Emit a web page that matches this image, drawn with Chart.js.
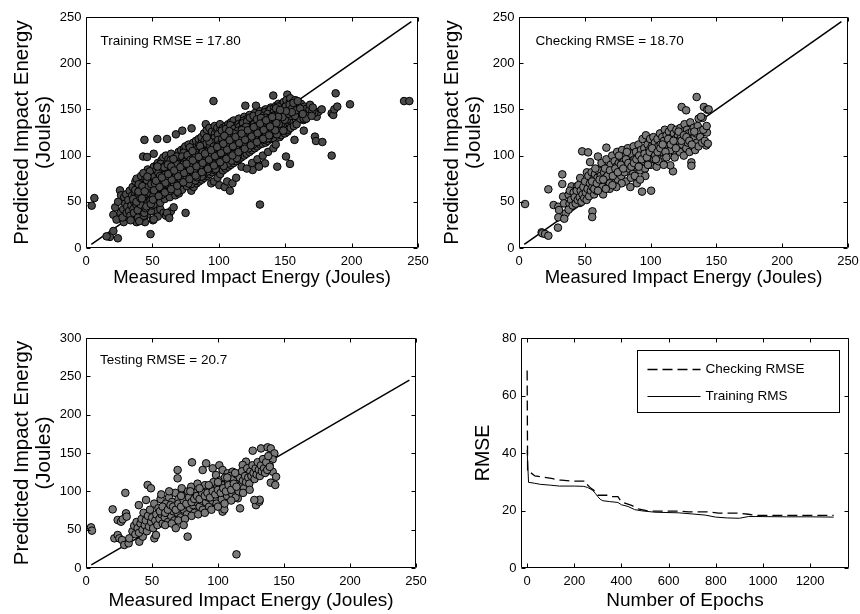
<!DOCTYPE html>
<html>
<head>
<meta charset="utf-8">
<title>Impact energy model - ANFIS results</title>
<script src="https://cdn.jsdelivr.net/npm/chart.js@4.4.0/dist/chart.umd.min.js"></script>
<style>
  html, body { margin: 0; padding: 0; background: #fff; }
  #wrap { position: relative; width: 860px; height: 614px; }
  #wrap canvas { position: absolute; }
</style>
</head>
<body>
<div id="wrap">
  <canvas id="trainChart" width="430" height="300" style="left:0;top:0"></canvas>
  <canvas id="checkChart" width="430" height="300" style="left:430px;top:0"></canvas>
  <canvas id="testChart" width="430" height="314" style="left:0;top:300px"></canvas>
  <canvas id="epochChart" width="430" height="314" style="left:430px;top:300px"></canvas>
</div>
<script>
// Measured vs predicted impact energy (Joules), [measured, predicted]
const trainingPoints = [
  [4.3,45.8],[6.3,54],[48.6,15],[18,12],[15.5,12.6],[20.6,18.4],[24,10.5],[20.6,36],[23,30.7],[25.6,62.4],
  [75,38],[131,47],[96,159],[44,117],[43,99],[46,98.5],[51,102],[53.7,118],[61,118],[67.7,123],[72.5,127],[79.5,129.5],
  [120,154],[128,154],[141,165],[151.6,166],[144,88],[153.6,91],[150.6,99],[172.4,120.5],[173.2,115.8],[178,114.7],
  [185,100],[185,145.8],[186.2,144],[187,150],[188,167.4],[189.2,153],[198.8,155.5],[239.5,159],[243.5,159],
  [166.7,150],[162,152.6],[157,117],[164,127],[125.5,84.4],[130.5,90],[134.8,91.6],[163.6,138.5],[165,139.3],
  [173.7,142],[175,147.5],[177.5,150],[169.4,150.4],[172,146.4],[158.6,153.7],
  [36,32],[42,30],[46,36],[50.4,30],[52,40],[56,42],[58.4,38],[60.2,35],[62.5,36],[54,34],[64,40],[66,44],[44.4,28],
  [22,44],[26,38],[28.4,28],[30,34],[24.2,50],[26.4,57],[30.8,46],[38,28],[40,36],[34,41],[43,34],[51,31],[61,38],[62.7,32.5],
  [28,42],[28.8,55],[27.5,33],[29.5,48],[30.6,38],[30.2,58],[31,45],[32.4,40],[31.8,52],[32.9,62],[33.4,35],[34.2,46],[34.8,57],[33.6,30],[35.1,66],
  [36.3,50],[35.7,42],[36.8,60],[37.2,72],[36.1,38],[38.4,55],[37.9,47],[38.8,65],[39.2,33],[38.1,75],
  [40.3,44],[39.6,58],[40.8,68],[41.2,52],[40.1,29],[41.5,78],[42.4,60],[42.9,50],[41.7,70],[43.3,40],[42.2,64],[43.6,35],
  [44.5,55],[44.1,66],[45.2,48],[44.8,75],[45.6,62],[43.9,38],[46.3,58],[46.8,70],[45.7,52],[47.1,80],[46.1,64],[47.4,44],[46.5,85],
  [48.2,62],[48.7,72],[47.8,55],[49.1,50],[48.5,78],[49.4,66],[48.9,40],
  [50.3,60],[50.7,68],[49.8,75],[51.2,56],[50.5,82],[51.5,64],[49.6,46],[51.1,88],
  [52.4,65],[52.8,70],[51.9,58],[53.2,80],[52.6,62],[53.5,90],[52.2,50],[53.9,74],
  [54.3,68],[54.8,62],[53.7,76],[55.1,84],[54.5,58],[55.4,72],[54.1,92],[55.7,52],
  [56.2,66],[56.7,72],[55.9,80],[57.1,60],[56.5,88],[57.4,70],[56.9,95],[57.7,55],[56.3,76],
  [58.4,70],[58.8,64],[57.8,78],[59.2,84],[58.6,74],[59.5,58],[58.2,98],[59.8,68],
  [60.3,72],[60.8,66],[59.7,80],[61.2,88],[60.6,62],[61.5,76],[60.1,100],[61.8,56],[60.9,92],
  [62.4,74],[62.8,68],[61.7,82],[63.2,90],[62.6,78],[63.5,64],[62.1,96],[63.8,58],[62.9,86],
  [64.3,76],[64.7,70],[63.9,84],[65.1,92],[64.5,66],[65.4,80],[64.1,102],[65.7,62],[64.9,88],
  [66.2,78],[66.8,72],[65.8,86],[67.2,94],[66.6,68],[67.5,82],[66.1,74],[67.8,98],[66.4,60],
  [68.3,80],[68.7,74],[67.9,88],[69.2,96],[68.5,70],[69.5,84],[68.1,64],[69.8,104],[68.9,76],
  [70.2,82],[70.8,76],[69.7,90],[71.1,98],[70.5,72],[71.4,86],[70.1,66],[71.7,106],[70.9,80],[71.3,94],
  [72.4,84],[72.8,78],[71.9,92],[73.2,100],[72.6,74],[73.5,88],[72.1,68],[73.8,108],[72.9,96],
  [74.3,86],[74.7,80],[73.9,94],[75.2,102],[74.5,76],[75.5,90],[74.1,70],[75.8,82],[74.9,110],
  [76.3,88],[76.8,82],[75.7,96],[77.1,104],[76.5,78],[77.4,92],[76.1,72],[77.7,98],[76.9,86],[77.3,112],
  [78.4,90],[78.8,84],[77.9,98],[79.2,106],[78.6,80],[79.5,94],[78.1,74],[79.8,86],[78.9,102],[79.3,62],
  [80.3,92],[80.7,86],[79.7,100],[81.2,108],[80.5,82],[81.5,96],[80.1,76],[81.8,88],[80.9,114],[81.1,66],
  [82.4,94],[82.8,88],[81.9,102],[83.2,110],[82.6,84],[83.5,98],[82.1,78],[83.8,90],[82.9,116],[83.3,70],
  [84.3,95],[84.7,90],[83.9,104],[85.2,112],[84.5,86],[85.5,100],[84.1,80],[85.8,92],[84.9,118],[85.1,72],
  [86.4,97],[86.8,92],[85.9,106],[87.2,114],[86.6,88],[87.5,102],[86.1,82],[87.8,94],[86.9,120],[87.3,74],
  [88.3,99],[88.7,94],[87.9,108],[89.2,116],[88.5,90],[89.5,104],[88.1,84],[89.8,96],[88.9,124],[89.1,76],
  [90.4,100],[90.8,95],[89.9,110],[91.2,118],[90.6,92],[91.5,106],[90.1,86],[91.8,98],[90.9,128],[91.3,78],[90.2,134],
  [92.3,102],[92.7,97],[91.9,112],[93.2,120],[92.5,94],[93.5,108],[92.1,88],[93.8,100],[92.9,130],[93.1,80],
  [94.4,104],[94.8,99],[93.9,114],[95.2,122],[94.6,96],[95.5,110],[94.1,90],[95.8,102],[94.9,126],[95.1,82],[94.3,70],
  [96.3,106],[96.7,100],[95.9,116],[97.2,124],[96.5,98],[97.5,112],[96.1,92],[97.8,104],[96.9,132],[97.1,84],[96.4,72],
  [98.4,107],[98.8,102],[97.9,118],[99.2,126],[98.6,100],[99.5,114],[98.1,94],[99.8,88],[98.9,130],[99.1,76],
  [100.3,108],[100.7,104],[99.7,120],[101.2,128],[100.5,102],[101.5,116],[100.1,96],[101.8,90],[100.9,134],[101.1,80],[100.4,68],
  [102.4,110],[102.8,105],[101.9,121],[103.2,130],[102.6,103],[103.5,117],[102.1,98],[103.8,92],[102.9,124],[103.1,84],
  [104.3,112],[104.7,107],[103.9,122],[105.2,132],[104.5,105],[105.5,118],[104.1,100],[105.8,94],[104.9,126],[105.1,86],[104.4,66],
  [106.4,113],[106.8,108],[105.9,123],[107.2,134],[106.6,106],[107.5,119],[106.1,102],[107.8,96],[106.9,128],[107.1,88],[106.3,72],
  [108.3,114],[108.7,110],[107.9,124],[109.2,136],[108.5,108],[109.5,120],[108.1,104],[109.8,98],[108.9,130],[109.1,90],[108.4,62],
  [110.4,116],[110.8,111],[109.9,126],[111.2,138],[110.6,109],[111.5,121],[110.1,105],[111.8,100],[110.9,132],[111.1,92],[110.3,70],
  [112.3,117],[112.7,112],[111.9,127],[113.2,110],[112.5,122],[113.5,106],[112.1,101],[113.8,133],[112.9,94],[113.1,76],
  [114.4,118],[114.8,114],[113.9,128],[115.2,140],[114.6,112],[115.5,124],[114.1,108],[115.8,102],[114.9,134],[115.1,96],
  [116.3,120],[116.7,115],[115.9,130],[117.2,113],[116.5,125],[117.5,109],[116.1,104],[117.8,136],[116.9,98],[117.1,88],
  [118.4,121],[118.8,116],[117.9,131],[119.2,142],[118.6,114],[119.5,126],[118.1,110],[119.8,105],[118.9,138],[119.1,100],
  [120.3,122],[120.7,118],[119.7,132],[121.2,115],[120.5,127],[121.5,112],[120.1,106],[121.8,140],[120.9,102],[121.1,86],
  [122.4,124],[122.8,119],[121.9,133],[123.2,144],[122.6,116],[123.5,128],[122.1,113],[123.8,108],[122.9,136],[123.1,104],
  [124.3,125],[124.7,120],[123.9,134],[125.2,117],[124.5,129],[125.5,114],[124.1,110],[125.8,138],[124.9,106],[125.1,92],
  [126.4,126],[126.8,122],[125.9,136],[127.2,146],[126.6,118],[127.5,130],[126.1,115],[127.8,112],[126.9,140],[127.1,108],
  [128.3,127],[128.7,123],[127.9,137],[129.2,120],[128.5,131],[129.5,116],[128.1,114],[129.8,142],[128.9,110],[129.1,96],
  [130.4,128],[130.8,124],[129.9,138],[131.2,148],[130.6,121],[131.5,132],[130.1,118],[131.8,115],[130.9,144],[131.1,112],[130.3,88],
  [132.3,130],[132.7,126],[131.9,140],[133.2,122],[132.5,134],[133.5,119],[132.1,116],[133.8,146],[132.9,113],[133.1,100],
  [134.4,131],[134.8,127],[133.9,141],[135.2,150],[134.6,124],[135.5,135],[134.1,120],[135.8,118],[134.9,147],[135.1,114],
  [136.3,132],[136.7,128],[135.9,142],[137.2,125],[136.5,136],[137.5,122],[136.1,119],[137.8,148],[136.9,116],[137.1,104],
  [138.4,133],[138.8,129],[137.9,143],[139.2,152],[138.6,126],[139.5,138],[138.1,123],[139.8,120],[138.9,150],[139.1,118],
  [140.3,134],[140.7,130],[139.7,144],[141.2,128],[140.5,139],[141.5,124],[140.1,122],[141.8,152],[140.9,119],[141.1,108],
  [142.4,136],[142.8,132],[141.9,145],[143.2,154],[142.6,129],[143.5,140],[142.1,126],[143.8,148],[142.9,112],
  [144.3,137],[144.7,133],[143.9,146],[145.2,130],[144.5,141],[145.5,127],[144.1,150],[145.8,120],[144.9,156],
  [146.4,138],[146.8,134],[145.9,147],[147.2,155],[146.6,131],[147.5,142],[146.1,128],[147.8,152],[146.9,122],
  [148.3,140],[148.7,135],[147.9,148],[149.2,132],[148.5,143],[149.5,130],[148.1,154],[149.8,124],[148.9,158],
  [150.4,141],[150.8,136],[149.9,150],[151.2,156],[150.6,134],[151.5,145],[150.1,131],[151.8,126],[150.9,160],
  [152.3,142],[152.7,138],[151.9,151],[153.2,135],[152.5,146],[153.5,158],[152.1,128],[153.8,162],
  [154.4,144],[154.8,140],[153.9,152],[155.2,136],[154.6,148],[155.5,157],[154.1,130],
  [156.3,145],[156.7,150],[155.9,138],[157.2,153],[156.5,132],[157.5,160],
  [158.4,146],[158.8,152],[157.9,140],[159.2,155],[158.6,134],
  [160.3,148],[160.7,154],[159.7,142],[161.2,140],[160.5,157],
  [162.4,150],[162.8,145],[161.9,156],[164.3,148],[164.7,153],[163.9,140],[166.4,151],[166.8,146],[165.9,140],
  [168.3,150],[168.7,155],[170.4,148],[170.8,152],[169.9,143],
  [35.5,53],[37.1,63],[38.9,41],[39.7,69],[41.1,47],[42.6,57],[43.2,81],[44.9,43],[45.3,71],[46.7,49],[47.3,61],[48.1,83],
  [49.7,57],[50.9,47],[51.3,73],[52.9,53],[53.1,85],[53.8,61],[55.3,67],[55.9,49],[56.1,91],[57.6,63],[58.1,81],[59.3,53],
  [59.9,89],[60.7,59],[61.1,69],[61.9,83],[62.3,71],[63.1,55],[63.7,95],[64.9,73],[65.2,63],[66.9,89],[67.3,57],[67.9,79],
  [68.4,99],[69.1,67],[69.9,59],[70.6,93],[71.8,71],[72.3,63],[73.1,81],[73.6,103],[74.8,73],[75.1,97],[75.9,67],[76.7,87],
  [77.6,77],[78.2,109],[79.1,69],[79.9,91],[80.6,79],[81.4,103],[82.3,73],[83.1,93],[83.7,81],[84.2,107],[85.3,77],[86.2,99],
  [86.7,85],[87.6,111],[88.4,79],[89.3,101],[89.7,89],[90.7,113],[91.6,83],[92.2,105],[93.1,91],[93.8,117],[94.2,87],[95.3,107],
  [95.7,93],[96.8,119],[97.3,89],[98.2,109],[98.7,97],[99.4,123],[100.6,93],[101.3,111],[101.7,99],[102.3,127],[103.6,95],
  [104.2,115],[104.8,103],[105.4,129],[106.2,97],[107.3,117],[107.6,105],[108.7,133],[109.4,101],[110.2,119],[110.7,107],
  [111.6,129],[112.2,103],[113.4,125],[113.7,113],[114.3,99],[115.3,131],[116.2,107],[116.8,123],[117.4,117],[118.2,135],
  [119.3,113],[119.6,129],[120.4,109],[121.3,137],[122.2,121],[122.7,111],[123.4,141],[124.2,123],[125.3,133],[125.6,119],
  [126.2,143],[127.3,127],[128.2,117],[128.6,135],[129.4,125],[130.2,145],[131.3,129],[132.2,137],[132.8,123],[133.6,143],
  [134.2,117],[135.3,139],[136.2,127],[136.7,145],[137.4,131],[138.3,121],[139.3,141],[140.2,137],[141.4,147],[142.2,133],
  [143.3,143],[143.7,123],[144.6,153],[145.4,139],[146.3,145],[147.2,135],[147.7,149],[148.6,127],[149.4,147],[150.3,153],
  [151.3,139],[152.4,149],[153.3,155],[154.2,143],[155.3,151],[156.2,157],[157.4,143],[158.2,149],[159.4,159],[161.3,151],[163.2,145],
  [38,50],[41,54],[44,58],[47,60],[50,63],[53,66],[56,69],[59,72],[62,73],[65,77],[68,79],[71,83],[74,85],[77,87],[80,89],
  [83,91],[86,95],[89,97],[92,99],[95,103],[98,105],[101,107],[104,109],[107,111],[110,113],[113,115],[116,117],[119,119],
  [122,121],[125,123],[128,125],[131,127],[134,129],[137,131],[140,135],[143,137],[146,140],[149,143],[152,145],[155,147],
  [39.5,61],[42.5,67],[45.5,45],[48.5,51],[51.5,77],[54.5,81],[57.5,87],[60.5,79],[63.5,87],[66.5,93],[69.5,91],[72.5,99],
  [75.5,95],[78.5,101],[81.5,99],[84.5,103],[87.5,106],[90.5,104],[93.5,111],[96.5,114],[99.5,117],[102.5,113],[105.5,121],
  [108.5,123],[111.5,117],[114.5,127],[117.5,129],[120.5,125],[123.5,131],[126.5,134],[129.5,132],[132.5,139],[135.5,141],
  [138.5,136],[141.5,141],[144.5,145],[147.5,144],[150.5,148],
  [47.3,66.8],[52.6,59.1],[58.9,87.4],[63.4,61.7],[69.8,71.2],[74.1,92.6],[79.6,83.3],[84.8,97.9],[88.1,81.5],[92.9,115.2],
  [97.6,85.4],[101.9,113.6],[106.7,91.3],[111.4,123.8],[115.9,104.7],[120.6,131.2],[125.8,111.9],[130.1,133.7],[135.7,122.6],
  [140.9,143.1],[145.3,134.2],[149.6,138.8],
  [45.8,73.4],[50.3,55.2],[55.7,77.9],[61.6,90.3],[66.3,69.4],[72.7,83.6],[77.2,69.8],[82.8,100.4],[87.1,77.3],[91.4,96.5],
  [96.2,109.8],[100.3,99.1],[105.1,112.7],[109.7,94.6],[114.2,118.3],[119.1,122.5],[124.3,115.9],[128.8,139.2],[133.9,131.4],
  [138.2,126.3],[143.1,151.2],[147.9,141.6],
  [49.2,69.1],[53.8,88.2],[57.3,61.4],[62.8,80.9],[67.6,91.2],[71.2,74.8],[76.4,100.6],[81.7,85.2],[85.9,110.3],[90.2,90.7],
  [94.9,101.4],[99.2,110.9],[103.7,88.7],[107.9,126.5],[112.8,108.2],[117.3,127.6],[122.4,107.9],[127.6,124.4],[131.8,140.8],
  [136.9,118.6],[141.3,132.7],[146.2,149.4],
  [44.2,61.3],[48.8,47.6],[54.9,65.3],[59.6,79.2],[64.2,88.1],[68.9,60.8],[73.4,90.4],[78.7,95.3],[83.4,76.6],[87.9,103.8],
  [92.4,87.2],[97.8,96.6],[102.6,118.4],[106.2,110.4],[110.9,101.7],[115.6,121.1],[120.9,116.3],[125.2,128.6],[129.7,121.8],
  [134.6,136.9],[139.8,129.4],[144.7,141.9],
  [42.1,53.7],[46.2,77.2],[51.9,69.6],[56.8,57.3],[60.9,75.7],[65.8,96.4],[70.3,81.1],[75.6,77.4],[80.2,104.9],[86.4,89.9],
  [90.9,119.6],[95.6,91.2],[99.9,101.3],[104.2,121.4],[108.8,116.1],[113.6,97.2],[118.4,112.4],[123.1,125.1],[127.9,131.4],
  [132.4,118.1],[137.7,139.7],[142.5,127.4],
  [51.2,62.4],[55.4,66.1],[59.8,70.7],[64.6,73.9],[69.3,77.6],[73.9,81.3],[78.4,84.6],[83.2,88.4],[87.8,92.1],[92.6,95.7],
  [97.1,99.4],[101.6,102.8],[106.3,106.4],[110.7,110.1],[115.4,113.6],[119.8,117.2],[124.7,120.7],[129.2,124.3],[133.8,127.8],
  [138.6,131.5],[143.4,135.2],
  [52.7,72.8],[57.1,76.3],[61.9,80.1],[66.4,83.9],[71.1,87.5],[75.7,91.2],[80.4,94.8],[84.9,98.6],[89.6,102.2],[94.3,105.9],
  [98.8,109.3],[103.4,112.9],[108.1,116.7],[112.6,120.2],[117.2,123.8],[121.9,127.4],[126.3,130.9],[131.1,134.6],[135.6,138.1],
  [140.2,141.8],
  [50.4,52.3],[54.8,56.2],[59.4,60.1],[64.1,63.7],[68.7,67.4],[73.3,71.1],[77.9,74.6],[82.6,78.4],[87.2,82.1],[91.8,85.7],
  [96.4,89.3],[101.1,92.9],[105.7,96.6],[110.3,100.2],[114.8,103.8],[119.5,107.4],[124.1,111.1],[128.7,114.7],[133.4,118.2],
  [137.9,121.9]
];

const checkingPoints = [
  [4.6,47.6],[17.2,17],[17.7,15.9],[19.8,15.2],[22.3,13.3],[22.3,63.5],[26.3,46.5],[29.9,44.7],[30.4,41.1],[29.9,33.2],[29.6,22],
  [32.9,79.7],[32.9,69.3],[33.5,55.6],[34.2,48.3],[35.5,37.5],[34.4,31.7],[37.7,57.7],[38.4,48],[37.7,41.5],[40,66.7],[44,66.7],
  [45.3,57.7],[46.3,48.7],[46.5,75.8],[48,104.6],[52.5,103.5],[51.6,81.9],[54,93],[55.6,79],[55.8,39.7],[55.6,33.5],[60,99],[64,88],
  [66.4,108.6],[93.5,61],[100.4,62],[123.6,152.6],[127,149],[135,163.4],[140.5,152.6],[143,149.7],[139.5,140.7],[136.5,140],
  [142.8,125],[142.3,111],[137,118],[130,120.9],[131,92.7],[131,89],[117,83],[115,89.5],[118,102.8],
  [38.6,62],[39.5,52],[40.8,46],[41.5,60],[42.3,55],[43.1,48],[43.8,62],[44.6,52],[45.2,68],[46.1,55],[46.9,62],[47.5,50],[48.3,58],
  [48.9,66],[49.6,54],[50.2,72],[50.8,60],[51.4,52],[52.1,64],[52.7,78],[53.3,56],[53.9,70],[54.6,62],[55.2,82],[55.8,66],[56.4,74],
  [57.1,58],[57.7,80],[58.3,68],[58.9,62],[59.6,76],[60.2,84],[60.8,70],[61.4,64],[62.1,78],[62.7,92],[63.3,72],[63.9,58],[64.6,82],
  [65.2,68],[65.8,76],[66.4,96],[67.1,86],[67.7,72],[68.3,80],[68.9,64],[69.6,90],[70.2,76],[70.8,100],[71.4,84],[72.1,70],[72.7,94],
  [73.3,80],[73.9,88],[74.6,104],[75.2,74],[75.8,92],[76.4,84],[77.1,98],[77.7,78],[78.3,106],[78.9,88],[79.6,94],[80.2,82],[80.8,100],
  [81.4,72],[82.1,90],[82.7,108],[83.3,86],[83.9,96],[84.6,66],[85.2,102],[85.8,92],[86.4,80],[87.1,110],[87.7,96],[88.3,88],[88.9,104],
  [89.6,70],[90.2,98],[90.8,112],[91.4,92],[92.1,84],[92.7,106],[93.3,100],[93.9,118],[94.6,94],[95.2,108],[95.8,86],[96.4,122],
  [97.1,102],[97.7,112],[98.3,96],[98.9,106],[99.6,118],[100.2,90],[100.8,110],[101.4,102],[102.1,120],[102.7,96],[103.3,114],
  [103.9,106],[104.6,88],[105.2,118],[105.8,110],[106.4,100],[107.1,124],[107.7,112],[108.3,104],[108.9,120],[109.6,96],[110.2,116],
  [110.8,128],[111.4,108],[112.1,122],[112.7,112],[113.3,100],[113.9,126],[114.6,116],[115.2,106],[115.8,130],[116.4,120],[117.1,112],
  [117.7,124],[118.3,98],[118.9,118],[119.6,128],[120.2,110],[120.8,122],[121.4,116],[122.1,104],[122.7,130],[123.3,120],[123.9,112],
  [124.6,126],[125.2,100],[125.8,134],[126.4,118],[127.1,108],[127.7,128],[128.3,114],[128.9,124],[129.6,104],[130.2,136],[130.8,118],
  [131.4,126],[132.1,110],[132.7,130],[133.3,120],[133.9,106],[134.6,124],[135.2,114],[135.8,132],[136.4,110],[137.1,126],[137.7,120],
  [138.3,142],[139.2,114],[140.1,128],[141.2,116],[142.6,132],[143.5,113],[144.1,150],
  [55.5,72],[57.2,64],[59.1,70],[61.2,74],[63.4,66],[65.4,86],[67.2,78],[69.1,84],[71.3,78],[73.2,86],[75.1,82],[77.4,90],[79.2,86],
  [81.3,96],[83.1,92],[85.4,88],[87.3,92],[89.2,96],[91.3,100],[93.2,96],[95.4,102],[97.2,98],[99.3,104],[101.2,108],[103.4,100],
  [105.3,104],[107.4,108],[109.2,112],[111.3,104],[113.4,118],[115.3,112],[117.4,116],[119.2,108],[121.3,126],[123.4,116],[125.3,122],
  [127.2,120],[129.4,116],[131.3,112],[133.2,126],[85,76],[88,78],[78,70],[74,66],[69,70],[96,78],[92,74],[106,94],[110,90],[64,74],
  [60,62],[76,100],[82,104],[91,88],[98,90],[104,96],[112,98],[58,86],[66,64],[71,68]
];

const testingPoints = [
  [3.8,53],[4.5,48.7],[20.2,76.5],[29.8,98],[21.5,38.7],[24,43],[25.3,38.7],[27.3,36.5],[24,62.6],[26.5,60.4],[27.8,63.5],
  [30.3,71.3],[30.8,67],[29,30],[32.3,32.2],[32.8,38.7],[40,82],[45.5,88.7],[46.7,108.3],[49.2,104],[40.4,34.3],[43,40.9],
  [51.8,38.7],[53,43],[69.4,127.8],[69.4,117],[80.3,137.8],[77,40.9],[88.4,127.8],[91,136.5],[96,130],[98.5,121.3],[101,134],
  [103.5,127.8],[103.5,73.5],[104.8,76.5],[116.7,77.8],[115,90.9],[114,17.8],[126.3,153],[132.6,156],[137.6,157.4],[140,156],
  [142.7,149.5],[141.4,141.7],[139,134.3],[138.4,128.7],[141.4,125.6],[144,119],[140,111.3],[143.4,108.3],[128.8,82],[131.3,86.5],
  [131.6,89],[127.5,88.7],[121.2,138.7],[118.7,134.3],[107.3,123.5],[111,125.6],
  [35.2,48],[36.5,55],[37.4,44],[38.3,60],[39.1,52],[40.2,46],[41.3,58],[42.1,64],[42.8,50],[43.6,72],[44.5,56],[45.3,62],[46.1,48],
  [46.9,68],[47.7,54],[48.5,76],[49.3,60],[50.1,66],[50.9,52],[51.7,84],[52.5,62],[53.3,70],[54.1,56],[54.9,78],[55.7,64],[56.5,90],
  [57.3,70],[58.1,58],[58.9,76],[59.7,66],[60.5,84],[61.3,72],[62.1,60],[62.9,92],[63.7,78],[64.5,68],[65.3,86],[66.1,74],[66.9,62],
  [67.7,98],[68.5,82],[69.3,72],[70.1,90],[70.9,78],[71.7,66],[72.5,104],[73.3,86],[74.1,76],[74.9,94],[75.7,82],[76.5,70],[77.3,100],
  [78.1,88],[78.9,78],[79.7,106],[80.5,92],[81.3,82],[82.1,72],[82.9,98],[83.7,86],[84.5,110],[85.3,94],[86.1,80],[86.9,102],[87.7,88],
  [88.5,76],[89.3,96],[90.1,108],[90.9,86],[91.7,100],[92.5,92],[93.3,80],[94.1,104],[94.9,96],[95.7,88],[96.5,112],[97.3,100],
  [98.1,92],[98.9,84],[99.7,106],[100.5,96],[101.3,114],[102.1,102],[102.9,90],[103.7,108],[104.5,98],[105.3,118],[106.1,104],
  [106.9,94],[107.7,112],[108.5,100],[109.3,120],[110.1,106],[110.9,96],[111.7,116],[112.5,104],[113.3,92],[114.1,122],[114.9,110],
  [115.7,100],[116.5,118],[117.3,108],[118.1,126],[118.9,114],[119.7,104],[120.5,120],[121.3,112],[122.1,130],[122.9,118],[123.7,110],
  [124.5,126],[125.3,120],[126.1,134],[126.9,124],[127.7,116],[128.5,130],[129.3,122],[130.1,138],[130.9,128],[131.7,120],[132.5,134],
  [133.3,126],[134.1,142],[134.9,130],[135.7,124],[136.5,138],[137.3,128],[138.1,146],[139.2,132],
  [56,74],[58,80],[60,72],[62,76],[64,82],[66,80],[68,76],[70,84],[72,80],[74,88],[76,84],[78,92],[80,86],[82,90],[84,94],[86,90],
  [88,98],[90,94],[92,98],[94,92],[96,100],[98,96],[100,102],[102,98],[104,104],[106,100],[108,108],[110,102],[112,110],[114,106],
  [60,56],[65,58],[70,62],[75,64],[80,68],[85,70],[90,72],[95,76],[100,80],[105,84],[110,88],[57,96],[63,100],[72,94],[79,100],
  [86,104],[93,108],[100,112],[107,118],[113,124],[119,98],[124,102],[68,52],[74,56]
];

// ends of the y = x reference line
const identityLine = [4, 245];

// RMSE against training epochs
const checkingEpochs = [0, 2, 10, 33, 70, 109, 125, 146, 186, 250, 257, 271, 290, 300, 343, 357, 385, 400, 443, 471, 514, 642, 684, 769, 812, 897, 939, 968, 1100, 1300];
const checkingRmse = [68.7, 33.5, 33.5, 32.0, 31.6, 31.1, 30.6, 30.6, 30.2, 30.2, 28.8, 27.7, 26.6, 25.3, 25.3, 24.8, 24.8, 23.0, 21.8, 20.6, 19.8, 19.8, 19.5, 19.5, 19.1, 19.1, 18.7, 18.3, 18.3, 18.3];
const trainingEpochs = [0, 6, 30, 56, 100, 137, 200, 240, 257, 278, 290, 300, 310, 321, 350, 385, 400, 428, 456, 485, 542, 641, 700, 755, 800, 850, 900, 939, 970, 1100, 1200, 1300];
const trainingRmse = [41, 29.8, 29.5, 29.1, 28.8, 28.5, 28.5, 28.4, 28.0, 27.0, 25.9, 24.8, 23.9, 23.4, 23.1, 22.8, 22.0, 21.4, 20.3, 19.9, 19.4, 19.2, 18.8, 18.4, 17.7, 17.4, 17.3, 17.9, 17.9, 17.8, 17.8, 17.7];

// tick values
const energyTicks = [0, 50, 100, 150, 200, 250];
const testingYTicks = [0, 50, 100, 150, 200, 250, 300];
const epochTicks = [0, 200, 400, 600, 800, 1000, 1200];
const rmseTicks = [0, 20, 40, 60, 80];

const FONT = "'Liberation Sans', Arial, Helvetica, sans-serif";
Chart.defaults.font.family = FONT;
Chart.defaults.color = '#000';

// frame round the plot area, with tick marks pointing inwards on all sides
const frameTicks = {
  id: 'frameTicks',
  afterDraw(chart) {
    const { ctx, chartArea: a, scales } = chart;
    const l = Math.round(a.left) + 0.5, r = Math.round(a.right) - 0.5;
    const t = Math.round(a.top) + 0.5, b = Math.round(a.bottom) - 0.5;
    const len = 4;
    ctx.save();
    ctx.strokeStyle = '#000';
    ctx.lineWidth = 1;
    ctx.beginPath();
    scales.x.ticks.forEach(function(tk) {
      const px = Math.round(scales.x.getPixelForValue(tk.value)) + 0.5;
      ctx.moveTo(px, b); ctx.lineTo(px, b - len);
      ctx.moveTo(px, t); ctx.lineTo(px, t + len);
    });
    scales.y.ticks.forEach(function(tk) {
      const py = Math.round(scales.y.getPixelForValue(tk.value)) + 0.5;
      ctx.moveTo(l, py); ctx.lineTo(l + len, py);
      ctx.moveTo(r, py); ctx.lineTo(r - len, py);
    });
    ctx.rect(l, t, r - l, b - t);
    ctx.stroke();
    ctx.restore();
  }
};

// RMSE note in the upper left corner of a scatter panel
const rmseNote = {
  id: 'rmseNote',
  afterDraw(chart, args, opts) {
    const { ctx, scales } = chart;
    ctx.save();
    ctx.font = '13.5px ' + FONT;
    ctx.fillStyle = '#000';
    ctx.textBaseline = 'middle';
    ctx.fillText(opts.text, scales.x.getPixelForValue(opts.x), scales.y.getPixelForValue(opts.y));
    ctx.restore();
  }
};

// boxed legend inside the epoch panel
const epochLegend = {
  id: 'epochLegend',
  afterDraw(chart) {
    const { ctx, chartArea: a } = chart;
    const bx = Math.round(a.left + 116) + 0.5, by = Math.round(a.top + 12) + 0.5;
    const bw = Math.round(a.right - 10) - Math.round(a.left + 116), bh = 62;
    ctx.save();
    ctx.fillStyle = '#fff';
    ctx.fillRect(bx, by, bw, bh);
    ctx.strokeStyle = '#000';
    ctx.lineWidth = 1;
    ctx.strokeRect(bx, by, bw, bh);
    ctx.font = '13.5px ' + FONT;
    ctx.fillStyle = '#000';
    ctx.textBaseline = 'middle';
    chart.data.datasets.forEach(function(ds, i) {
      const y = Math.round(by + 18 + i * 27) + 0.5;
      ctx.beginPath();
      ctx.setLineDash(ds.borderDash || []);
      ctx.lineWidth = ds.borderWidth;
      ctx.moveTo(bx + 10, y);
      ctx.lineTo(bx + 63, y);
      ctx.stroke();
      ctx.setLineDash([]);
      ctx.fillText(ds.label, bx + 68, y);
    });
    ctx.restore();
  }
};

function fixedTicks(values) {
  return function(scale) {
    scale.ticks = values.map(function(v) { return { value: v }; });
  };
}

// axis boxes get a fixed size and no label overhang, so the plot area lands where it should
function xAxis(cfg) {
  return {
    type: 'linear', min: cfg.min, max: cfg.max,
    afterBuildTicks: fixedTicks(cfg.ticks),
    afterFit: function(s) { s.height = cfg.height; s.paddingLeft = 0; s.paddingRight = 0; },
    grid: { display: false, drawTicks: false },
    border: { display: false },
    ticks: { autoSkip: false, maxRotation: 0, padding: 6, color: '#000', font: { size: 13 },
             callback: function(v) { return String(v); } },
    title: { display: true, text: cfg.title, color: '#000',
             font: { size: cfg.titleSize, lineHeight: 1.2 }, padding: { top: 0, bottom: cfg.titlePad } }
  };
}

function yAxis(cfg) {
  return {
    type: 'linear', min: cfg.min, max: cfg.max,
    afterBuildTicks: fixedTicks(cfg.ticks),
    afterFit: function(s) { s.width = cfg.width; s.paddingTop = 0; s.paddingBottom = 0; },
    grid: { display: false, drawTicks: false },
    border: { display: false },
    ticks: { autoSkip: false, padding: 4.5, color: '#000', font: { size: 13 },
             callback: function(v) { return String(v); } },
    title: { display: true, text: cfg.title, color: '#000',
             font: { size: cfg.titleSize, lineHeight: 1.1 }, padding: { top: cfg.titlePad, bottom: 0 } }
  };
}

function scatterPanel(id, p) {
  return new Chart(document.getElementById(id), {
    type: 'scatter',
    data: {
      datasets: [
        {
          data: p.points.map(function(d) { return { x: d[0], y: d[1] }; }),
          pointRadius: 3.8,
          pointBackgroundColor: p.fill,
          pointBorderColor: '#000',
          pointBorderWidth: 1
        },
        {
          data: identityLine.map(function(v) { return { x: v, y: v }; }),
          showLine: true,
          borderColor: '#000',
          borderWidth: 1.5,
          pointRadius: 0
        }
      ]
    },
    options: {
      responsive: false,
      animation: false,
      events: [],
      layout: { padding: { left: 0, top: p.top, right: p.right, bottom: 0 } },
      plugins: {
        legend: { display: false },
        tooltip: { enabled: false },
        rmseNote: { text: p.note, x: p.noteX, y: p.noteY }
      },
      scales: {
        x: xAxis({ min: 0, max: 250, ticks: energyTicks, height: p.xHeight,
                   title: 'Measured Impact Energy (Joules)', titleSize: p.xTitleSize, titlePad: p.xTitlePad }),
        y: yAxis({ min: 0, max: p.yMax, ticks: p.yTicks, width: p.yWidth,
                   title: ['Predicted Impact Energy', '(Joules)'], titleSize: 20.5, titlePad: 11 })
      }
    },
    plugins: [frameTicks, rmseNote]
  });
}

scatterPanel('trainChart', {
  points: trainingPoints, fill: '#4a4a4a', top: 17, right: 12, xHeight: 52, yWidth: 86,
  yMax: 250, yTicks: energyTicks, xTitleSize: 18.5, xTitlePad: 11,
  note: 'Training RMSE = 17.80', noteX: 11, noteY: 224
});

scatterPanel('checkChart', {
  points: checkingPoints, fill: '#7a7a7a', top: 17, right: 12, xHeight: 52, yWidth: 89,
  yMax: 250, yTicks: energyTicks, xTitleSize: 18.5, xTitlePad: 11,
  note: 'Checking RMSE = 18.70', noteX: 12.5, noteY: 224
});

scatterPanel('testChart', {
  points: testingPoints, fill: '#7a7a7a', top: 38, right: 14, xHeight: 46, yWidth: 86,
  yMax: 300, yTicks: testingYTicks, xTitleSize: 19, xTitlePad: 1.5,
  note: 'Testing RMSE = 20.7', noteX: 10.6, noteY: 271
});

new Chart(document.getElementById('epochChart'), {
  type: 'scatter',
  data: {
    datasets: [
      {
        label: 'Checking RMSE',
        data: checkingEpochs.map(function(e, i) { return { x: e, y: checkingRmse[i] }; }),
        showLine: true,
        borderColor: '#000',
        borderWidth: 1.3,
        borderDash: [10, 5],
        pointRadius: 0
      },
      {
        label: 'Training RMS',
        data: trainingEpochs.map(function(e, i) { return { x: e, y: trainingRmse[i] }; }),
        showLine: true,
        borderColor: '#000',
        borderWidth: 1,
        pointRadius: 0
      }
    ]
  },
  options: {
    responsive: false,
    animation: false,
    events: [],
    layout: { padding: { left: 0, top: 38, right: 11, bottom: 0 } },
    plugins: { legend: { display: false }, tooltip: { enabled: false } },
    scales: {
      x: xAxis({ min: -26, max: 1365, ticks: epochTicks, height: 46,
                 title: 'Number of Epochs', titleSize: 19, titlePad: 2 }),
      y: yAxis({ min: 0, max: 80, ticks: rmseTicks, width: 91,
                 title: 'RMSE', titleSize: 19.5, titlePad: 43 })
    }
  },
  plugins: [frameTicks, epochLegend]
});
</script>
</body>
</html>
